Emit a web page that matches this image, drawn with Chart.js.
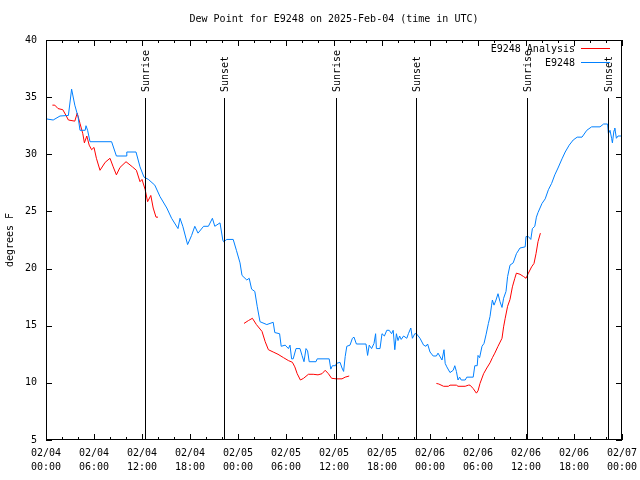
<!DOCTYPE html>
<html>
<head>
<meta charset="utf-8">
<script src="https://cdn.jsdelivr.net/npm/chart.js@4.4.1/dist/chart.umd.min.js"></script>
<style>
  body { margin: 0; background: #fff; }
</style>
</head>
<body>
<canvas id="dewChart" width="640" height="480"></canvas>
<script>
// hours since 2025-02-04 00:00 UTC
const tickDates = ['02/04', '02/04', '02/04', '02/04', '02/05', '02/05', '02/05', '02/05', '02/06', '02/06', '02/06', '02/06', '02/07'];
const tickTimes = ['00:00', '06:00', '12:00', '18:00', '00:00', '06:00', '12:00', '18:00', '00:00', '06:00', '12:00', '18:00', '00:00'];
const yTicks = [5, 10, 15, 20, 25, 30, 35, 40];

// station observations (E9248)
const obsHours = [0, 0.9, 1.75, 2.8, 3.2, 3.6, 4.0, 4.25, 4.9, 5.0, 5.2, 5.5, 8.2, 8.8, 10.0, 10.1, 11.25, 11.75, 12.25, 12.8,
  13.6, 14.25, 15.1, 15.7, 16.5, 16.75, 17.1, 17.7, 18.2, 18.6, 19.0, 19.7, 20.3, 20.8, 21.1, 21.75, 22.1, 22.2, 22.6, 23.4,
  23.8, 24.25, 24.5, 25.1, 25.4, 25.7, 26.1, 26.4, 26.75, 27.6, 28.4, 28.6, 29.2, 29.4, 29.9, 30.3, 30.5, 30.7, 30.9, 31.25,
  31.75, 32.0, 32.25, 32.5, 32.7, 32.9, 33.75, 33.9, 35.4, 35.6, 35.8, 36.2, 36.3, 36.75, 37.0, 37.2, 37.4, 37.6, 38.0, 38.3,
  38.5, 38.8, 40.0, 40.2, 40.4, 40.7, 41.0, 41.2, 41.3, 41.75, 42.0, 42.3, 42.6, 42.9, 43.2, 43.4, 43.6, 43.8, 44.0, 44.2,
  44.4, 44.7, 45.1, 45.3, 45.6, 45.8, 46.1, 46.3, 46.75, 47.2, 47.5, 47.7, 48.0, 48.4, 48.8, 49.0, 49.5, 49.75, 49.9, 50.1,
  50.5, 50.9, 51.1, 51.3, 51.5, 51.7, 51.9, 52.4, 52.6, 53.4, 53.6, 53.9, 54.0, 54.2, 54.5, 54.75, 55.0, 55.3, 55.5, 55.7,
  55.8, 56.0, 56.25, 56.5, 56.75, 57.0, 57.2, 57.5, 57.7, 58.0, 58.4, 58.8, 59.25, 59.9, 60.0, 60.3, 60.6, 60.8, 61.1, 61.3,
  61.5, 62.0, 62.4, 62.8, 63.2, 63.6, 64.0, 64.5, 64.9, 65.4, 65.9, 66.4, 67.0, 67.6, 68.2, 69.25, 69.7, 70.2, 70.3, 70.5,
  70.7, 70.8, 71.0, 71.1, 71.3, 71.5, 72.0];
const obsDew = [33.1, 33.0, 33.35, 33.4, 35.7, 34.3, 33.3, 32.1, 32.1, 32.5, 32.1, 31.1, 31.1, 29.85, 29.85, 30.2, 30.2, 28.9, 28.0, 27.8,
  27.3, 26.3, 25.3, 24.4, 23.5, 24.4, 23.7, 22.1, 22.9, 23.7, 23.1, 23.7, 23.7, 24.4, 23.7, 24.0, 22.5, 22.35, 22.55, 22.55,
  21.6, 20.5, 19.4, 19.0, 19.15, 18.2, 18.0, 16.7, 15.35, 15.1, 15.3, 14.4, 14.3, 13.2, 13.3, 13.0, 13.3, 12.1, 12.1, 13.0,
  13.0, 12.4, 11.85, 13.0, 12.8, 11.85, 11.85, 12.1, 12.1, 11.2, 11.5, 11.5, 11.7, 11.8, 11.3, 11.0, 12.3, 13.2, 13.3, 13.9,
  14.0, 13.4, 13.4, 12.4, 13.3, 13.0, 13.45, 14.3, 13.0, 13.0, 14.3, 14.1, 14.6, 14.6, 14.3, 14.6, 12.9, 14.3, 13.7, 14.1,
  13.8, 14.1, 13.9, 14.3, 14.8, 13.9, 14.3, 14.3, 13.9, 13.3, 13.2, 13.4, 12.7, 12.35, 12.35, 12.6, 12.0, 12.9, 11.7, 11.4,
  10.9, 11.1, 11.5, 11.0, 10.25, 10.5, 10.25, 10.25, 10.5, 10.5, 11.5, 11.5, 12.4, 12.2, 13.2, 13.45, 14.2, 15.2, 15.8, 16.8,
  17.25, 16.8, 17.25, 17.8, 17.1, 16.6, 17.4, 18.0, 19.3, 20.3, 20.5, 21.3, 21.8, 21.9, 22.8, 22.8, 22.55, 23.5, 23.7, 24.5,
  24.9, 25.7, 26.1, 26.9, 27.45, 28.2, 28.8, 29.6, 30.2, 30.8, 31.25, 31.5, 31.5, 32.1, 32.4, 32.4, 32.65, 32.65, 31.8, 32.1,
  31.4, 31.0, 32.1, 32.3, 31.4, 31.6, 31.6];

// analysis (E9248 Analysis), null = gap
const anaHours = [0.8, 1.1, 1.5, 2.1, 2.5, 2.8, 3.6, 3.9, 4.25, 4.6, 4.8, 5.1, 5.4, 5.7, 6.0, 6.3, 6.75, 7.4, 8.0, 8.4,
  8.8, 9.25, 10.0, 10.8, 11.3, 11.75, 12.0, 12.4, 12.7, 13.1, 13.4, 13.75, 14.0, 19.0,
  24.75, 25.3, 25.8, 26.3, 27.0, 27.4, 27.8, 28.4, 29.0, 29.7, 30.3, 30.8, 31.1, 31.4, 31.8, 32.2, 32.8, 33.4, 34.0, 34.5,
  34.9, 35.3, 35.7, 36.3, 37.0, 37.4, 37.9, 43.0,
  48.8, 49.1, 49.7, 50.3, 50.5, 51.3, 51.5, 52.4, 52.8, 53.0, 53.4, 53.8, 54.0, 54.25, 54.7, 55.1, 55.5, 55.8, 56.1, 56.5,
  57.0, 57.2, 57.4, 57.7, 58.0, 58.3, 58.6, 58.8, 59.25, 59.7, 60.0, 60.3, 60.7, 61.0, 61.25, 61.5, 61.8];
const anaDew = [34.3, 34.3, 34.0, 33.9, 33.4, 33.0, 32.9, 33.6, 32.7, 31.8, 31.0, 31.6, 30.8, 30.4, 30.6, 29.65, 28.6, 29.3, 29.65, 28.9,
  28.2, 28.85, 29.35, 28.9, 28.6, 27.6, 27.8, 26.9, 25.85, 26.4, 25.3, 24.5, 24.5, null,
  15.2, 15.45, 15.65, 15.1, 14.5, 13.6, 12.9, 12.7, 12.5, 12.2, 11.95, 11.8, 11.4, 10.8, 10.25, 10.4, 10.75, 10.75, 10.7, 10.8,
  11.1, 10.8, 10.4, 10.35, 10.35, 10.5, 10.6, null,
  9.95, 9.9, 9.7, 9.7, 9.8, 9.8, 9.7, 9.7, 9.8, 9.8, 9.5, 9.1, 9.3, 9.95, 10.8, 11.3, 11.75, 12.2, 12.6, 13.2,
  13.9, 14.9, 15.65, 16.7, 17.3, 18.4, 19.15, 19.6, 19.5, 19.3, 19.15, 19.6, 20.15, 20.45, 21.3, 22.35, 23.1];

// sunrise / sunset markers
const sunHours = [12.375, 22.25, 36.25, 46.25, 60.1, 70.25];
const sunLabels = ['Sunrise', 'Sunset', 'Sunrise', 'Sunset', 'Sunrise', 'Sunset'];

const FONT = 'DejaVu Sans Mono';

const toPoints = (xs, ys) => xs.map((h, i) => ({ x: h, y: ys[i] }));

// title, axis label, frame, inward ticks, sun lines and key
const decor = {
  id: 'decor',
  afterDraw(chart) {
    const { ctx, chartArea: a, scales: { x, y } } = chart;
    ctx.save();
    ctx.fillStyle = '#000';
    ctx.strokeStyle = '#000';
    ctx.lineWidth = 1;
    ctx.font = '10px ' + FONT;

    ctx.textAlign = 'center';
    ctx.textBaseline = 'middle';
    ctx.fillText('Dew Point for E9248 on 2025-Feb-04 (time in UTC)', (a.left + a.right) / 2, 19);

    ctx.save();
    ctx.translate(10, (a.top + a.bottom) / 2);
    ctx.rotate(-Math.PI / 2);
    ctx.fillText('degrees F', 0, 0);
    ctx.restore();

    ctx.strokeRect(a.left + 0.5, a.top + 0.5, a.right - a.left - 1, a.bottom - a.top - 1);

    ctx.beginPath();
    for (let h = 0; h <= 72; h += 2) {
      const px = Math.round(x.getPixelForValue(h)) + 0.5;
      const len = h % 6 === 0 ? 6 : 3;
      ctx.moveTo(px, a.bottom); ctx.lineTo(px, a.bottom - len);
      ctx.moveTo(px, a.top); ctx.lineTo(px, a.top + len);
    }
    yTicks.forEach(v => {
      const py = Math.round(y.getPixelForValue(v)) + 0.5;
      ctx.moveTo(a.left, py); ctx.lineTo(a.left + 6, py);
      ctx.moveTo(a.right, py); ctx.lineTo(a.right - 6, py);
    });
    ctx.stroke();

    // sun lines
    ctx.beginPath();
    sunHours.forEach(h => {
      const px = Math.round(x.getPixelForValue(h)) + 0.5;
      ctx.moveTo(px, a.top + 58);
      ctx.lineTo(px, a.bottom);
    });
    ctx.stroke();
    ctx.textAlign = 'left';
    sunHours.forEach((h, i) => {
      const px = Math.round(x.getPixelForValue(h)) + 1;
      ctx.save();
      ctx.translate(px, a.top + 52);
      ctx.rotate(-Math.PI / 2);
      ctx.fillText(sunLabels[i], 0, 0);
      ctx.restore();
    });

    // key
    const keys = [['E9248 Analysis', '#ff0000'], ['E9248', '#0080ff']];
    keys.forEach((k, i) => {
      const ky = a.top + 9 + i * 14;
      ctx.fillStyle = '#000';
      ctx.textAlign = 'right';
      ctx.fillText(k[0], a.right - 47, ky);
      ctx.strokeStyle = k[1];
      ctx.beginPath();
      ctx.moveTo(a.right - 41, ky - 0.5);
      ctx.lineTo(a.right - 12, ky - 0.5);
      ctx.stroke();
    });
    ctx.restore();
  }
};

const chart = new Chart(document.getElementById('dewChart'), {
  type: 'line',
  data: {
    datasets: [
      {
        label: 'E9248',
        data: toPoints(obsHours, obsDew),
        borderColor: '#0080ff',
        borderWidth: 1,
        pointRadius: 0,
        tension: 0,
        order: 1
      },
      {
        label: 'E9248 Analysis',
        data: toPoints(anaHours, anaDew),
        borderColor: '#ff0000',
        borderWidth: 1,
        pointRadius: 0,
        tension: 0,
        spanGaps: false,
        order: 2
      }
    ]
  },
  options: {
    responsive: false,
    animation: false,
    devicePixelRatio: 1,
    layout: { padding: { top: 40, right: 18, left: 0, bottom: 0 } },
    plugins: {
      legend: { display: false },
      title: { display: false },
      tooltip: { enabled: false }
    },
    scales: {
      x: {
        type: 'linear',
        min: 0,
        max: 72,
        afterFit: s => { s.height = 40; s.paddingRight = 0; s.paddingLeft = 0; },
        grid: { display: false, drawTicks: false },
        border: { display: false },
        ticks: {
          stepSize: 6,
          padding: 6,
          maxRotation: 0,
          autoSkip: false,
          color: '#000',
          font: { family: FONT, size: 10, lineHeight: 1.4 },
          callback: (v, i) => [tickDates[i], tickTimes[i]]
        }
      },
      y: {
        min: 5,
        max: 40,
        afterFit: s => { s.width = 46; s.paddingTop = 0; s.paddingBottom = 0; },
        grid: { display: false, drawTicks: false },
        border: { display: false },
        ticks: {
          stepSize: 5,
          padding: 9,
          color: '#000',
          font: { family: FONT, size: 10 }
        }
      }
    }
  },
  plugins: [decor]
});
</script>
</body>
</html>
